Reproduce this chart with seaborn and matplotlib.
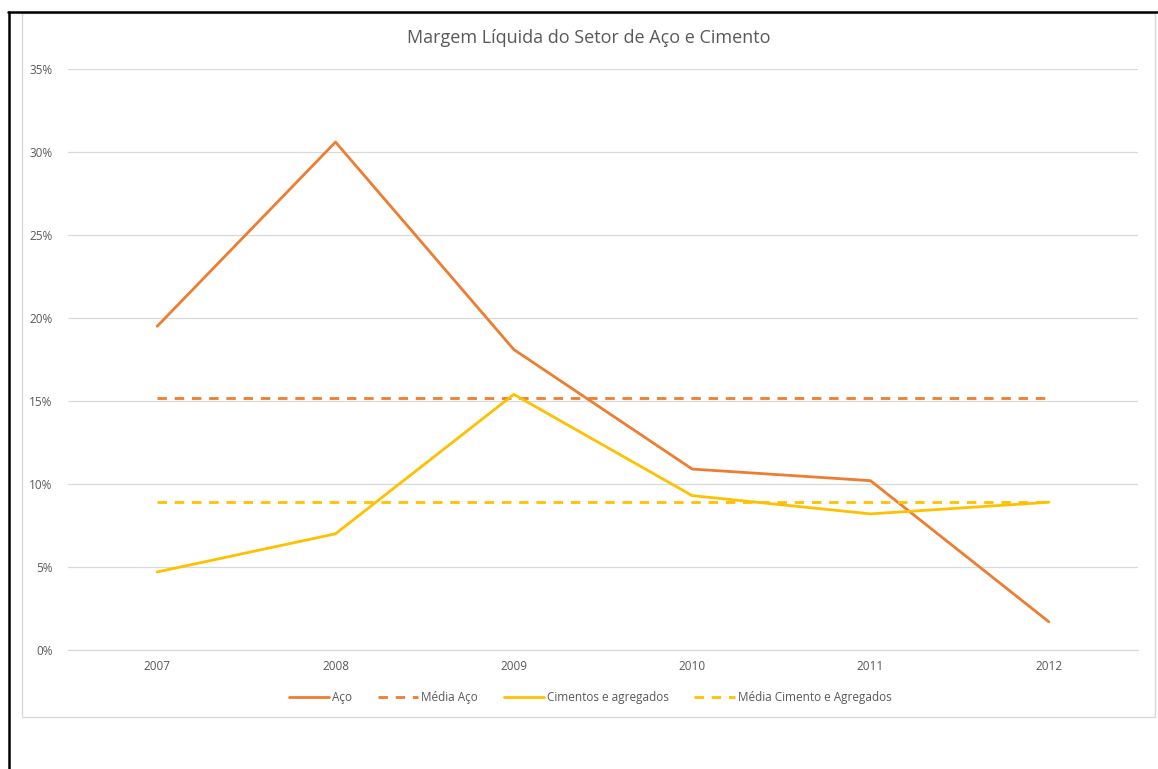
import matplotlib
matplotlib.use('Agg')
import matplotlib.pyplot as plt
import matplotlib.lines as mlines
import matplotlib.patches as mpatches
import pandas as pd
import seaborn as sns

# data
anos = [2007, 2008, 2009, 2010, 2011, 2012]
aco = [19.5, 30.6, 18.1, 10.9, 10.2, 1.7]
cimentos = [4.7, 7.0, 15.4, 9.3, 8.2, 8.9]
media_aco = sum(aco) / len(aco)
media_cimentos = sum(cimentos) / len(cimentos)

df = pd.DataFrame({
    'ano': anos,
    'Aço': aco,
    'Média Aço': [media_aco] * len(anos),
    'Cimentos e agregados': cimentos,
    'Média Cimento e Agregados': [media_cimentos] * len(anos),
})

laranja = '#ED7D31'
amarelo = '#FFC000'
cinza = '#595959'

sns.set_theme(style='white')
plt.rcParams['font.family'] = ['Open Sans', 'DejaVu Sans']

fig = plt.figure(figsize=(11.58, 7.69), dpi=100)
ax = fig.add_axes([68 / 1158, 1 - 650 / 769, (1138 - 68) / 1158, (650 - 69) / 769])

estilos = {
    'Aço': (laranja, '-'),
    'Média Aço': (laranja, (0, (3.4, 2.8))),
    'Cimentos e agregados': (amarelo, '-'),
    'Média Cimento e Agregados': (amarelo, (0, (3.4, 2.8))),
}
for nome, (cor, ls) in estilos.items():
    sns.lineplot(data=df, x='ano', y=df[nome] / 100, ax=ax, color=cor,
                 linestyle=ls, linewidth=2.0, label=nome, legend=False)

ax.set_xlim(2006.5, 2012.5)
ax.set_ylim(0, 0.35)
ax.set_xticks(anos)
ax.set_xticklabels([str(a) for a in anos])
yt = [i * 0.05 for i in range(8)]
ax.set_yticks(yt)
ax.set_yticklabels([f'{int(round(v * 100))}%' for v in yt])
ax.tick_params(axis='both', length=0, labelsize=8.5, labelcolor=cinza)
ax.tick_params(axis='y', pad=11)
ax.tick_params(axis='x', pad=7)
ax.yaxis.grid(True, color='#D9D9D9', linewidth=0.9)
ax.set_axisbelow(True)
for s in ax.spines.values():
    s.set_visible(False)
ax.spines['bottom'].set_visible(True)
ax.spines['bottom'].set_color('#D9D9D9')
ax.spines['bottom'].set_linewidth(0.9)
ax.set_xlabel('')
ax.set_ylabel('')

fig.text(589 / 1158, 1 - 38 / 769, 'Margem Líquida do Setor de Aço e Cimento',
         ha='center', va='center', fontsize=13, color=cinza)

handles, labels = ax.get_legend_handles_labels()
fig.legend(handles, labels, loc='center', bbox_to_anchor=(590 / 1158, 1 - 698 / 769),
           ncol=4, frameon=False, fontsize=8.5, labelcolor=cinza,
           handlelength=3.4, handletextpad=0.25, columnspacing=2.2)

# chart border and page frame
fig.patches.append(mpatches.Rectangle((22 / 1158, 1 - 717 / 769), (1155 - 22) / 1158,
                                      (717 - 13) / 769, transform=fig.transFigure,
                                      fill=False, edgecolor='#D9D9D9', linewidth=1.0))
fig.lines.append(mlines.Line2D([9 / 1158, 9 / 1158], [0, 1 - 12 / 769],
                               transform=fig.transFigure, color='black', linewidth=1.8))
fig.lines.append(mlines.Line2D([8 / 1158, 1], [1 - 12 / 769, 1 - 12 / 769],
                               transform=fig.transFigure, color='black', linewidth=1.8))

fig.savefig('out.png', dpi=100)
